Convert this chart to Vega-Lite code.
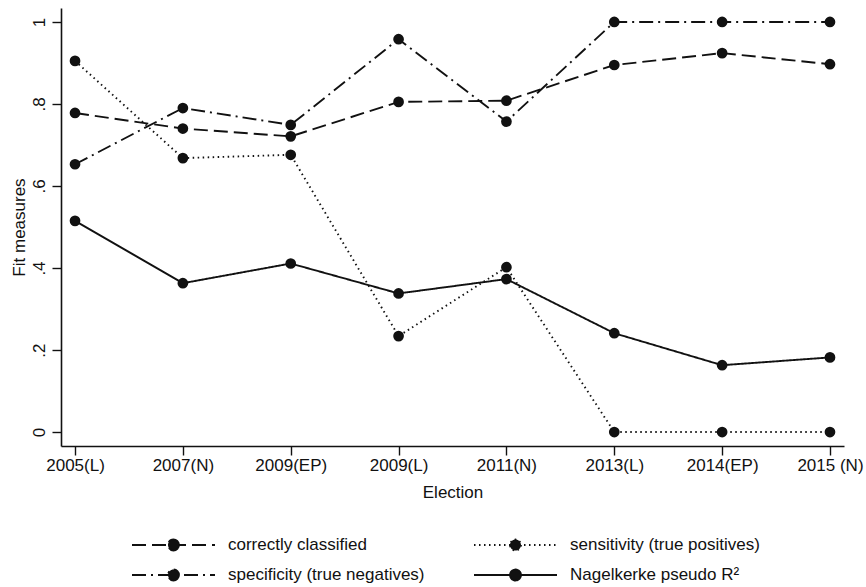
{
  "$schema": "https://vega.github.io/schema/vega-lite/v6.json",
  "width": 783,
  "height": 438,
  "autosize": "none",
  "padding": {"left": 61, "top": 8, "right": 22, "bottom": 141},
  "background": "white",
  "config": {
    "view": {"stroke": null},
    "font": "Liberation Sans",
    "axis": {
      "grid": false,
      "domainColor": "#111",
      "domainWidth": 1.6,
      "tickColor": "#111",
      "tickWidth": 1.4,
      "tickSize": 9,
      "labelColor": "#111",
      "labelFont": "Liberation Sans",
      "labelFontSize": 17,
      "titleColor": "#111",
      "titleFont": "Liberation Sans",
      "titleFontSize": 17,
      "titleFontWeight": "normal"
    }
  },
  "data": {
    "values": [
      {"election": "2005(L)", "measure": "correctly classified", "value": 0.778},
      {"election": "2007(N)", "measure": "correctly classified", "value": 0.740},
      {"election": "2009(EP)", "measure": "correctly classified", "value": 0.721},
      {"election": "2009(L)", "measure": "correctly classified", "value": 0.805},
      {"election": "2011(N)", "measure": "correctly classified", "value": 0.808},
      {"election": "2013(L)", "measure": "correctly classified", "value": 0.895},
      {"election": "2014(EP)", "measure": "correctly classified", "value": 0.924},
      {"election": "2015 (N)", "measure": "correctly classified", "value": 0.897},
      {"election": "2005(L)", "measure": "sensitivity (true positives)", "value": 0.905},
      {"election": "2007(N)", "measure": "sensitivity (true positives)", "value": 0.668},
      {"election": "2009(EP)", "measure": "sensitivity (true positives)", "value": 0.676},
      {"election": "2009(L)", "measure": "sensitivity (true positives)", "value": 0.234},
      {"election": "2011(N)", "measure": "sensitivity (true positives)", "value": 0.402},
      {"election": "2013(L)", "measure": "sensitivity (true positives)", "value": 0},
      {"election": "2014(EP)", "measure": "sensitivity (true positives)", "value": 0},
      {"election": "2015 (N)", "measure": "sensitivity (true positives)", "value": 0},
      {"election": "2005(L)", "measure": "specificity (true negatives)", "value": 0.653},
      {"election": "2007(N)", "measure": "specificity (true negatives)", "value": 0.790},
      {"election": "2009(EP)", "measure": "specificity (true negatives)", "value": 0.749},
      {"election": "2009(L)", "measure": "specificity (true negatives)", "value": 0.958},
      {"election": "2011(N)", "measure": "specificity (true negatives)", "value": 0.757},
      {"election": "2013(L)", "measure": "specificity (true negatives)", "value": 1},
      {"election": "2014(EP)", "measure": "specificity (true negatives)", "value": 1},
      {"election": "2015 (N)", "measure": "specificity (true negatives)", "value": 1},
      {"election": "2005(L)", "measure": "Nagelkerke pseudo R²", "value": 0.515},
      {"election": "2007(N)", "measure": "Nagelkerke pseudo R²", "value": 0.363},
      {"election": "2009(EP)", "measure": "Nagelkerke pseudo R²", "value": 0.411},
      {"election": "2009(L)", "measure": "Nagelkerke pseudo R²", "value": 0.338},
      {"election": "2011(N)", "measure": "Nagelkerke pseudo R²", "value": 0.373},
      {"election": "2013(L)", "measure": "Nagelkerke pseudo R²", "value": 0.241},
      {"election": "2014(EP)", "measure": "Nagelkerke pseudo R²", "value": 0.163},
      {"election": "2015 (N)", "measure": "Nagelkerke pseudo R²", "value": 0.182}
    ]
  },
  "encoding": {
    "x": {
      "field": "election",
      "type": "ordinal",
      "sort": ["2005(L)", "2007(N)", "2009(EP)", "2009(L)", "2011(N)", "2013(L)", "2014(EP)", "2015 (N)"],
      "scale": {"type": "point", "padding": 0.13},
      "axis": {"title": "Election", "labelAngle": 0, "labelPadding": 2, "titlePadding": 11}
    },
    "y": {
      "field": "value",
      "type": "quantitative",
      "scale": {"domain": [-0.034, 1.034], "nice": false, "zero": false},
      "axis": {
        "title": "Fit measures",
        "values": [0, 0.2, 0.4, 0.6, 0.8, 1],
        "labelExpr": "datum.value == 0 ? '0' : datum.value == 1 ? '1' : replace(format(datum.value, '.1f'), '0.', '.')",
        "labelAngle": -90,
        "labelAlign": "center",
        "labelBaseline": "bottom",
        "labelPadding": 4,
        "titlePadding": 2
      }
    }
  },
  "layer": [
    {
      "mark": {"type": "line", "stroke": "#111", "strokeWidth": 1.9},
      "encoding": {
        "strokeDash": {
          "field": "measure",
          "type": "nominal",
          "scale": {
            "domain": ["correctly classified", "specificity (true negatives)", "sensitivity (true positives)", "Nagelkerke pseudo R²"],
            "range": [[14, 6], [14, 5, 2, 5], [1.5, 3.5], [1, 0]]
          },
          "legend": {
            "title": null,
            "orient": "none",
            "legendX": 70,
            "legendY": 527,
            "columns": 2,
            "padding": 0,
            "symbolType": "M-1,0L1,0M0.1325,0A0.1325,0.1325,0,1,1,-0.1325,0A0.1325,0.1325,0,1,1,0.1325,0Z",
            "symbolSize": 6889,
            "symbolStrokeWidth": 1.8,
            "symbolStrokeColor": "#111",
            "symbolFillColor": "#111",
            "symbolOpacity": 1,
            "labelFont": "Liberation Sans",
            "labelFontSize": 17,
            "labelColor": "#111",
            "labelOffset": 12,
            "labelLimit": 400,
            "clipHeight": 20,
            "rowPadding": 10,
            "columnPadding": 48
          }
        }
      }
    },
    {
      "mark": {"type": "point", "shape": "circle", "filled": true, "size": 115, "color": "#111", "opacity": 1},
      "encoding": {
        "detail": {"field": "measure", "type": "nominal"}
      }
    }
  ]
}
